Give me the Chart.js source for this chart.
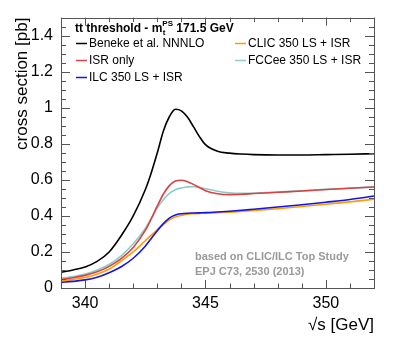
<!DOCTYPE html>
<html>
<head>
<meta charset="utf-8">
<script src="https://cdn.jsdelivr.net/npm/chart.js@4.4.1/dist/chart.umd.min.js"></script>
<style>
  html, body { margin: 0; padding: 0; background: #fff; }
  #wrap { width: 407px; height: 344px; }
</style>
</head>
<body>
<div id="wrap"><canvas id="xsec"></canvas></div>
<script>
// centre-of-mass energy grid [GeV]
const sqrtS = [339, 339.5, 340, 340.5, 341, 341.5, 342, 342.5, 342.75, 343, 343.25, 343.5, 343.75,
               344, 344.25, 344.5, 344.75, 345, 345.5, 346, 346.5, 347, 348, 349, 350, 351, 352];

// cross sections [pb]
const benekeNNNLO = [0.088, 0.100, 0.117, 0.148, 0.200, 0.290, 0.400, 0.545, 0.640, 0.750, 0.870, 0.950, 0.992,
                     0.983, 0.948, 0.895, 0.840, 0.795, 0.758, 0.748, 0.743, 0.740, 0.738, 0.738, 0.740, 0.742, 0.745];
const isrOnly     = [0.047, 0.057, 0.070, 0.090, 0.120, 0.163, 0.225, 0.320, 0.385, 0.455, 0.520, 0.568, 0.593,
                     0.598, 0.590, 0.575, 0.557, 0.540, 0.523, 0.518, 0.520, 0.524, 0.531, 0.538, 0.546, 0.553, 0.560];
const ilcLS       = [0.031, 0.037, 0.045, 0.060, 0.085, 0.118, 0.165, 0.232, 0.275, 0.318, 0.357, 0.388, 0.405,
                     0.412, 0.415, 0.416, 0.417, 0.418, 0.422, 0.426, 0.431, 0.437, 0.449, 0.462, 0.476, 0.491, 0.510];
const clicLS      = [0.040, 0.048, 0.058, 0.076, 0.105, 0.150, 0.200, 0.262, 0.293, 0.323, 0.352, 0.378, 0.394,
                     0.403, 0.409, 0.412, 0.414, 0.415, 0.418, 0.421, 0.425, 0.430, 0.440, 0.452, 0.465, 0.478, 0.492];
const fccLS       = [0.053, 0.063, 0.077, 0.100, 0.130, 0.178, 0.245, 0.330, 0.385, 0.445, 0.490, 0.525, 0.545,
                     0.555, 0.561, 0.562, 0.558, 0.551, 0.537, 0.528, 0.525, 0.526, 0.532, 0.539, 0.547, 0.554, 0.561];

const seriesLabels = ['Beneke et al. NNNLO', 'ISR only', 'ILC 350 LS + ISR', 'CLIC 350 LS + ISR', 'FCCee 350 LS + ISR'];
const seriesColors = ['#000000', '#dd4040', '#1414e6', '#ff9c00', '#8ccccc'];

const xTickLabels = [340, 345, 350];
const yTickLabels = [0, 0.2, 0.4, 0.6, 0.8, 1, 1.2, 1.4];

const FONT = '"Liberation Sans", Arial, Helvetica, sans-serif';

function points(values) {
    return sqrtS.map((x, i) => ({ x: x, y: values[i] }));
}

// ROOT-style frame with ticks on all four sides, pointing inwards
const frameTicks = {
    id: 'frameTicks',
    afterDatasetsDraw(chart) {
        const { ctx, chartArea: a, scales: { x, y } } = chart;
        ctx.save();
        ctx.strokeStyle = '#555';
        ctx.lineWidth = 1;
        ctx.beginPath();
        for (let v = 339; v <= 352; v += 1) {
            const px = Math.round(x.getPixelForValue(v)) + 0.5;
            const len = (v % 5 === 0) ? 8 : 4.5;
            ctx.moveTo(px, a.bottom); ctx.lineTo(px, a.bottom - len);
            ctx.moveTo(px, a.top); ctx.lineTo(px, a.top + len);
        }
        for (let i = 0; i <= 30; i++) {
            const v = i * 0.05;
            const py = Math.round(y.getPixelForValue(v)) + 0.5;
            const len = (i % 4 === 0) ? 9 : 5;
            ctx.moveTo(a.left, py); ctx.lineTo(a.left + len, py);
            ctx.moveTo(a.right, py); ctx.lineTo(a.right - len, py);
        }
        ctx.stroke();
        ctx.strokeRect(Math.round(a.left) + 0.5, Math.round(a.top) + 0.5,
                       Math.round(a.right - a.left), Math.round(a.bottom - a.top));
        ctx.restore();
    }
};

// header, two-column legend and reference note
const annotations = {
    id: 'annotations',
    afterDraw(chart) {
        const ctx = chart.ctx;
        ctx.save();
        ctx.textBaseline = 'alphabetic';
        ctx.fillStyle = '#000';

        // header
        ctx.font = 'bold 12px ' + FONT;
        let xp = 75;
        const base = 32;
        const head = 'tt threshold - m';
        ctx.fillText(head, xp, base);
        xp += ctx.measureText(head).width;
        ctx.font = 'bold 8px ' + FONT;
        ctx.fillText('t', xp + 0.5, base + 3);
        ctx.fillText('PS', xp, base - 6);
        xp += ctx.measureText('PS').width;
        ctx.font = 'bold 12px ' + FONT;
        ctx.fillText(' 171.5 GeV', xp, base);

        // legend
        const cols = [{ line: 76, text: 89 }, { line: 235, text: 248 }];
        const order = [[0, 0, 0], [1, 0, 1], [2, 0, 2], [3, 1, 0], [4, 1, 1]];
        ctx.font = '12px ' + FONT;
        ctx.textBaseline = 'middle';
        order.forEach(([idx, c, r]) => {
            const yy = 43.5 + r * 17;
            ctx.strokeStyle = seriesColors[idx];
            ctx.lineWidth = 1.5;
            ctx.beginPath();
            ctx.moveTo(cols[c].line, yy);
            ctx.lineTo(cols[c].line + 11, yy);
            ctx.stroke();
            ctx.fillStyle = '#000';
            ctx.fillText(seriesLabels[idx], cols[c].text, yy);
        });

        // reference note
        ctx.fillStyle = '#9a9a9a';
        ctx.font = 'bold 11px ' + FONT;
        ctx.fillText('based on CLIC/ILC Top Study', 195, 257);
        ctx.fillText('EPJ C73, 2530 (2013)', 195, 272);
        ctx.restore();
    }
};

const datasets = [benekeNNNLO, isrOnly, ilcLS, clicLS, fccLS].map((vals, i) => ({
    label: seriesLabels[i],
    data: points(vals),
    borderColor: seriesColors[i],
    backgroundColor: seriesColors[i],
    borderWidth: 1.6,
    pointRadius: 0,
    cubicInterpolationMode: 'monotone',
    fill: false
}));

new Chart(document.getElementById('xsec'), {
    type: 'line',
    data: { datasets: datasets },
    options: {
        responsive: true,
        maintainAspectRatio: false,
        animation: false,
        events: [],
        layout: { padding: { left: 0, right: 33, top: 17, bottom: 0 } },
        plugins: {
            legend: { display: false },
            tooltip: { enabled: false }
        },
        scales: {
            x: {
                type: 'linear',
                min: 339,
                max: 352,
                grid: { display: false, drawTicks: false },
                border: { display: false },
                afterBuildTicks(scale) {
                    scale.ticks = xTickLabels.map(v => ({ value: v }));
                },
                afterFit(scale) { scale.height = 56; },
                ticks: {
                    color: '#000',
                    padding: 6,
                    maxRotation: 0,
                    callback: v => String(v),
                    font: { family: FONT, size: 16 }
                },
                title: {
                    display: true,
                    text: '\u221As [GeV]',
                    align: 'end',
                    color: '#000',
                    padding: { top: 0, bottom: 8 },
                    font: { family: FONT, size: 17 }
                }
            },
            y: {
                min: 0,
                max: 1.5,
                grid: { display: false, drawTicks: false },
                border: { display: false },
                afterBuildTicks(scale) {
                    scale.ticks = yTickLabels.map(v => ({ value: v }));
                },
                afterFit(scale) { scale.width = 61; },
                ticks: {
                    color: '#000',
                    padding: 8,
                    callback: v => String(v),
                    font: { family: FONT, size: 16 }
                },
                title: {
                    display: true,
                    text: 'cross section [pb]',
                    align: 'end',
                    color: '#000',
                    padding: { top: 12, bottom: 12 },
                    font: { family: FONT, size: 17 }
                }
            }
        }
    },
    plugins: [frameTicks, annotations]
});
</script>
</body>
</html>
